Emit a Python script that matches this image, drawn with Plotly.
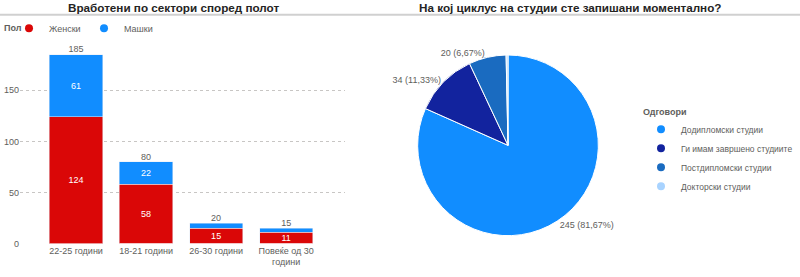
import plotly.graph_objects as go

# ---- data ----
age_groups = ["22-25 години", "18-21 години", "26-30 години", "Повеќе од 30<br>години"]
female = [124, 58, 15, 11]
male = [61, 22, 5, 4]
totals = [f + m for f, m in zip(female, male)]

cycle_labels = ["Додипломски студии", "Ги имам завршено студиите", "Постдипломски студии", "Докторски студии"]
cycle_values = [245, 34, 20, 1]
cycle_colors = ["#118DFF", "#12239E", "#1A6BC0", "#A8D3FF"]

RED = "#DA0707"
BLUE = "#118DFF"
GRAY = "#605E5C"
FONT = "Liberation Sans"

total_cycle = sum(cycle_values)
pct_text = [f"{v} ({v / total_cycle * 100:.2f}%)".replace(".", ",") for v in cycle_values]
pct_text[-1] = ""

fig = go.Figure()

for vals, col in [(female, RED), (male, BLUE)]:
    fig.add_trace(go.Bar(
        x=age_groups, y=vals, marker_color=col, width=0.76,
        text=[str(v) if v >= 10 else "" for v in vals],
        textposition="inside", insidetextanchor="middle", constraintext="none",
        textangle=0,
        textfont=dict(color="white", size=9, family=FONT),
        showlegend=False, hoverinfo="skip",
    ))
fig.add_trace(go.Scatter(
    x=age_groups, y=totals, mode="text", text=[str(t) for t in totals],
    textposition="top center", textfont=dict(color=GRAY, size=9, family=FONT),
    showlegend=False, cliponaxis=False, hoverinfo="skip",
))
# legend-only markers for the bar chart
for name, col in [("Женски", RED), ("Машки", BLUE)]:
    fig.add_trace(go.Scatter(
        x=[None], y=[None], mode="markers", name=name,
        marker=dict(color=col, size=8, symbol="circle"), legend="legend",
    ))

fig.add_trace(go.Pie(
    labels=cycle_labels, values=cycle_values, sort=False, direction="clockwise",
    marker=dict(colors=cycle_colors, line=dict(color="white", width=1)),
    text=pct_text, texttemplate="%{text}", textposition="outside",
    textfont=dict(color=GRAY, size=9, family=FONT),
    domain=dict(x=[416 / 800, 600 / 800], y=[37 / 277, 221 / 277]),
    showlegend=False, hoverinfo="skip",
))
for name, col in zip(cycle_labels, cycle_colors):
    fig.add_trace(go.Scatter(
        x=[None], y=[None], mode="markers", name=name,
        marker=dict(color=col, size=8, symbol="circle"), legend="legend2",
    ))

fig.update_layout(
    width=800, height=277,
    margin=dict(l=0, r=0, t=0, b=0),
    paper_bgcolor="white", plot_bgcolor="white",
    barmode="stack", bargap=0.24,
    font=dict(family=FONT, color=GRAY, size=9),
    xaxis=dict(domain=[20 / 800, 345 / 800], range=[-0.8, 3.84], showgrid=False,
               showline=False, ticks="", tickfont=dict(size=9, color=GRAY), fixedrange=True),
    yaxis=dict(domain=[1 - 248 / 277, 1 - 50.4 / 277], range=[0, 190],
               tickvals=[0, 50, 100, 150], showgrid=True, gridcolor="#C8C6C4",
               griddash="dot", gridwidth=1, zeroline=False, showline=False,
               ticks="", tickfont=dict(size=9, color=GRAY), fixedrange=True),
    legend=dict(orientation="h", x=9 / 800, y=1 - 14 / 277, xanchor="left", yanchor="top",
                font=dict(size=9, color=GRAY), itemwidth=30, entrywidth=30,
                traceorder="normal", tracegroupgap=0, bgcolor="rgba(0,0,0,0)"),
    legend2=dict(orientation="v", x=641 / 800, y=1 - 105 / 277, xanchor="left", yanchor="top",
                 title=dict(text="<b>Одговори</b>", font=dict(size=9, color=GRAY), side="top"),
                 font=dict(size=8.5, color=GRAY), itemwidth=30, tracegroupgap=0,
                 traceorder="normal", bgcolor="rgba(0,0,0,0)"),
    annotations=[
        dict(text="<b>Вработени по сектори според полот</b>", x=173 / 800, y=1 - 8 / 277,
             xref="paper", yref="paper", showarrow=False, xanchor="center", yanchor="middle",
             font=dict(size=11.7, color="#252423", family=FONT)),
        dict(text="<b>На кој циклус на студии сте запишани моментално?</b>", x=570 / 800, y=1 - 8 / 277,
             xref="paper", yref="paper", showarrow=False, xanchor="center", yanchor="middle",
             font=dict(size=11.7, color="#252423", family=FONT)),
        dict(text="<b>Пол</b>", x=2 / 800, y=1 - 29 / 277,
             xref="paper", yref="paper", showarrow=False, xanchor="left", yanchor="middle",
             font=dict(size=9, color=GRAY, family=FONT)),
    ],
    shapes=[
        dict(type="line", xref="paper", yref="paper", x0=0, x1=1, y0=1 - 15 / 277, y1=1 - 15 / 277,
             line=dict(color="#D0D0D0", width=2)),
    ],
)

fig.write_html("out.html")
